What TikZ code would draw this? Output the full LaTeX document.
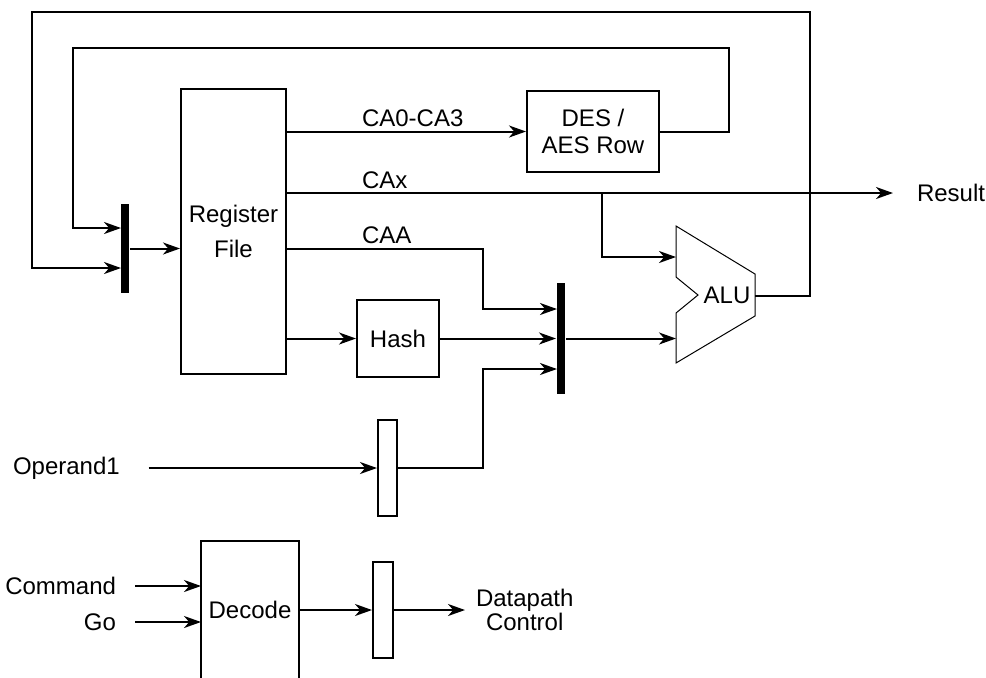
\documentclass[tikz,border=0pt]{standalone}
\usepackage{fontspec}
\setmainfont{Liberation Sans}
\usetikzlibrary{arrows.meta}
\begin{document}
\begin{tikzpicture}[x=0.5pt,y=-0.5pt,
  line width=1pt,
  arr/.style={-{Stealth[length=8.5pt,width=6pt,inset=2.6pt]}},
  blk/.style={draw, line width=1pt, inner sep=0pt, font=\fontsize{12}{14}\selectfont},
  bar/.style={fill=black, draw=none, minimum width=4pt, inner sep=0pt},
  lbl/.style={inner sep=0pt, font=\fontsize{12}{14}\selectfont},
]
\useasboundingbox (0,0) rectangle (986,677);

% blocks
\node[blk, minimum width=52.5pt, minimum height=142.5pt, align=center, font=\fontsize{12}{17.5}\selectfont] (rf) at (233.5,231.5) {Register\\File};
\node[blk, minimum width=66pt, minimum height=40.5pt, align=center, font=\fontsize{12}{13.5}\selectfont] (des) at (593,131.5) {DES /\\AES Row};
\node[blk, minimum width=41pt, minimum height=38.5pt] (hash) at (398,338.5) {Hash};
\node[bar, minimum height=44.5pt] (m1) at (125,248.5) {};
\node[bar, minimum height=55.5pt] (m2) at (561,338.5) {};
\node[blk, minimum width=9.5pt, minimum height=48pt] (m3) at (387.5,468) {};
\node[blk, minimum width=10pt, minimum height=48pt] (m4) at (383,610) {};
\node[lbl, minimum width=48pt, minimum height=67.5pt] (dec) at (250,609.5) {Decode};
\draw (dec.south west) -- (dec.north west) -- (dec.north east) -- (dec.south east);

% ALU
\draw[line width=0.5pt] (676,226) -- (755,274) -- (755,316) -- (676,363) -- (676,313) -- (698,295) -- (676,277) -- cycle;
\node[lbl] (alu) at (727,295) {ALU};
\coordinate (aluin1) at (676,257);
\coordinate (aluin2) at (676,338.5);
\coordinate (aluout) at (755,296);

% texts
\node[lbl, anchor=west] (res) at (916,193) {Result};
\node[lbl, anchor=west] (op) at (12,468) {Operand1};
\node[lbl, anchor=east] (cmd) at (117,586) {Command};
\node[lbl, anchor=east] (go) at (117,622) {Go};
\node[lbl, anchor=west, align=center, font=\fontsize{12}{12}\selectfont] (dp) at (475,610) {Datapath\\Control};
\node[lbl, anchor=west] (lca) at (361,118) {CA0-CA3};
\node[lbl, anchor=west] (lcax) at (361,180) {CAx};
\node[lbl, anchor=west] (lcaa) at (361,235) {CAA};

% helper coordinates
\coordinate (m1a) at (121,228);
\coordinate (m1b) at (121,268);
\coordinate (m2a) at (557,309);
\coordinate (m2c) at (557,369);
\coordinate (br) at (602,193);

% connectors
\draw[arr] (aluout) -- (810,296) |- (32,12) |- (m1b);
\draw[arr] (des.east) -- (729,131.5) |- (73,48) |- (m1a);
\draw[arr] (m1.east) -- (rf.west |- m1.east);
\draw[arr] (rf.east |- des.west) -- (des.west);
\draw[arr, shorten >=11.5pt] (rf.east |- res.west) -- (res.west);
\draw[arr] (br) |- (aluin1);
\draw[arr] (rf.east |- m1.east) -| (483,309) -- (m2a);
\draw[arr] (rf.east |- hash.west) -- (hash.west);
\draw[arr] (hash.east) -- (m2.west |- hash.east);
\draw[arr] (m2.east) -- (aluin2);
\draw[arr] (m3.east) -| (483,369) -- (m2c);
\draw[arr, shorten <=14pt] (op.east) -- (m3.west |- op.east);
\draw[arr, shorten <=9pt] (cmd.east) -- (dec.west |- cmd.east);
\draw[arr, shorten <=9pt] (go.east) -- (dec.west |- go.east);
\draw[arr] (dec.east |- m4.west) -- (m4.west);
\draw[arr, shorten >=5pt] (m4.east) -- (dp.west |- m4.east);
\end{tikzpicture}
\end{document}
